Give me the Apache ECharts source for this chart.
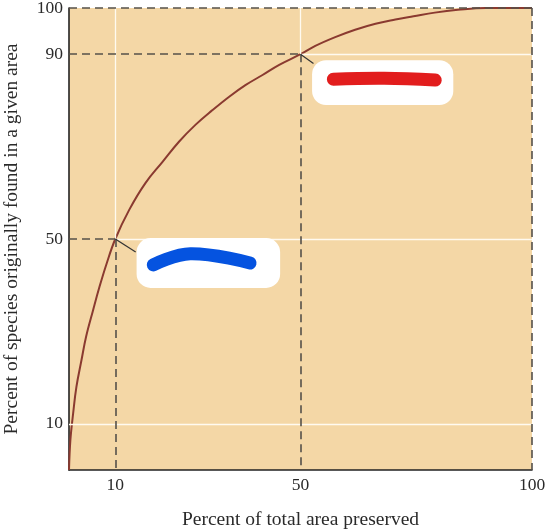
<!DOCTYPE html>
<html>
	<head>
		<meta charset="utf-8" />
		<title>Species-area curve</title>
		<script type="text/javascript" src="https://cdn.jsdelivr.net/npm/echarts@6/dist/echarts.min.js"></script>
	</head>
	<body style="margin:0;background:#fff;">
		<div id="chart" style="width:558px;height:529px;"></div>
	</body>
	<script>
	// curve: percent of area preserved -> percent of species
	var areaPct    = [0, 0.3, 0.9, 1.6, 2.7, 3.7, 5.2, 6.6, 8.1, 10, 13.0, 16.5, 20.2, 23.8, 27.3, 31.0, 34.6, 38.1, 41.8, 45.4, 50, 53.2, 57.5, 61.8, 66.2, 70.5, 74.4, 79, 84, 90, 100];
	var speciesPct = [0, 6.5, 12.3, 18.0, 23.8, 28.9, 34.6, 39.7, 44.6, 50, 56.3, 62.1, 66.7, 71.1, 74.7, 77.9, 80.8, 83.3, 85.5, 87.7, 90, 91.8, 93.7, 95.3, 96.6, 97.5, 98.2, 99.0, 99.6, 100, 100];

	var xTicks = [10, 50, 100];
	var yTicks = [10, 50, 90, 100];

	// the two marked points (dashed guides go from the axes to these)
	var markedX = [10, 50];
	var markedY = [50, 90];

	var curve = areaPct.map(function (a, i) { return [a, speciesPct[i]]; });

	var dom = document.getElementById('chart');
	var myChart = echarts.init(dom, null, { renderer: 'canvas' });

	var serif = 'Liberation Serif';
	var dashStyle = { color: '#55514a', width: 1.6, type: [8, 5] };
	var gridStyle = { color: '#fffaf0', width: 1.3, type: 'solid' };

	function seg(x1, y1, x2, y2) {
		return [{ coord: [x1, y1] }, { coord: [x2, y2] }];
	}

	// white grid pieces, only where no dashed guide runs
	var gridSegs = [
		seg(0, yTicks[0], 100, yTicks[0]),
		seg(markedX[0], markedY[0], 100, markedY[0]),
		seg(markedX[1], markedY[1], 100, markedY[1]),
		seg(markedX[0], markedY[0], markedX[0], 100),
		seg(markedX[1], markedY[1], markedX[1], 100)
	];
	var guideSegs = [
		seg(0, markedY[0], markedX[0], markedY[0]),
		seg(markedX[0], markedY[0], markedX[0], 0),
		seg(0, markedY[1], markedX[1], markedY[1]),
		seg(markedX[1], markedY[1], markedX[1], 0),
		seg(0, 100, 100, 100),
		seg(100, 100, 100, 0)
	];
	// short leader lines from points to the (covered) labels
	var leaderSegs = [
		seg(10, 50, 14.4, 47.2),
		seg(50, 90, 52.8, 88)
	];

	var option = {
		animation: false,
		grid: {
			left: 69, right: 26, top: 8, bottom: 59,
			outerBoundsMode: 'none',
			containLabel: false,
			show: true,
			backgroundColor: '#f4d7a6',
			borderWidth: 0
		},
		xAxis: {
			type: 'value',
			min: 0, max: 100, interval: 10,
			name: 'Percent of total area preserved',
			nameLocation: 'center',
			nameGap: 40,
			nameTextStyle: { fontFamily: serif, fontSize: 19.5, color: '#2a2a2a' },
			axisLine: { show: true, lineStyle: { color: '#222', width: 1.6 } },
			axisTick: { show: false },
			splitLine: { show: false },
			axisLabel: {
				fontFamily: serif, fontSize: 17.5, color: '#2a2a2a', margin: 6,
				formatter: function (v) { return xTicks.indexOf(v) >= 0 ? String(v) : ''; }
			}
		},
		yAxis: {
			type: 'value',
			min: 0, max: 100, interval: 10,
			name: 'Percent of species originally found in a given area',
			nameLocation: 'center',
			nameGap: 47,
			nameTextStyle: { fontFamily: serif, fontSize: 19.5, color: '#2a2a2a' },
			axisLine: { show: true, lineStyle: { color: '#222', width: 1.6 } },
			axisTick: { show: false },
			splitLine: { show: false },
			axisLabel: {
				fontFamily: serif, fontSize: 17.5, color: '#2a2a2a', margin: 6,
				formatter: function (v) { return yTicks.indexOf(v) >= 0 ? String(v) : ''; }
			}
		},
		series: [
			{
				name: 'grid', type: 'line', data: [], z: 1,
				markLine: { silent: true, symbol: 'none', label: { show: false }, lineStyle: gridStyle, data: gridSegs }
			},
			{
				name: 'guides', type: 'line', data: [], z: 2,
				markLine: { silent: true, symbol: 'none', label: { show: false }, lineStyle: dashStyle, data: guideSegs }
			},
			{
				name: 'leaders', type: 'line', data: [], z: 2,
				markLine: { silent: true, symbol: 'none', label: { show: false }, lineStyle: { color: '#333', width: 1.2, type: 'solid' }, data: leaderSegs }
			},
			{
				name: 'species', type: 'line', z: 3,
				data: curve,
				smooth: 0.4,
				showSymbol: false,
				lineStyle: { color: '#8a3a30', width: 2 }
			}
		]
	};
	myChart.setOption(option);

	// covered labels: white patches with a coloured stroke, placed in data units
	var patchBoxes  = [[14.6, 50.2, 45.6, 39.4], [52.5, 88.7, 83.0, 79.0]];
	var patchLines  = [
		[[18.2, 44.4], [26.2, 46.8], [39.1, 44.8]],
		[[57.1, 84.6], [68.1, 84.8], [79.1, 84.4]]
	];
	var patchColors = ['#0553e0', '#e21d1d'];

	var graphics = [];
	patchBoxes.forEach(function (b, i) {
		var p1 = myChart.convertToPixel('grid', [b[0], b[1]]);
		var p2 = myChart.convertToPixel('grid', [b[2], b[3]]);
		graphics.push({
			type: 'rect', z: 50,
			shape: { x: p1[0], y: p1[1], width: p2[0] - p1[0], height: p2[1] - p1[1], r: 14 },
			style: { fill: '#ffffff' }
		});
		graphics.push({
			type: 'polyline', z: 51,
			shape: { points: patchLines[i].map(function (pt) { return myChart.convertToPixel('grid', pt); }), smooth: 0.4 },
			style: { stroke: patchColors[i], lineWidth: 13, lineCap: 'round', fill: null }
		});
	});
	myChart.setOption({ graphic: graphics });

	window.addEventListener('resize', myChart.resize);
	</script>
</html>
